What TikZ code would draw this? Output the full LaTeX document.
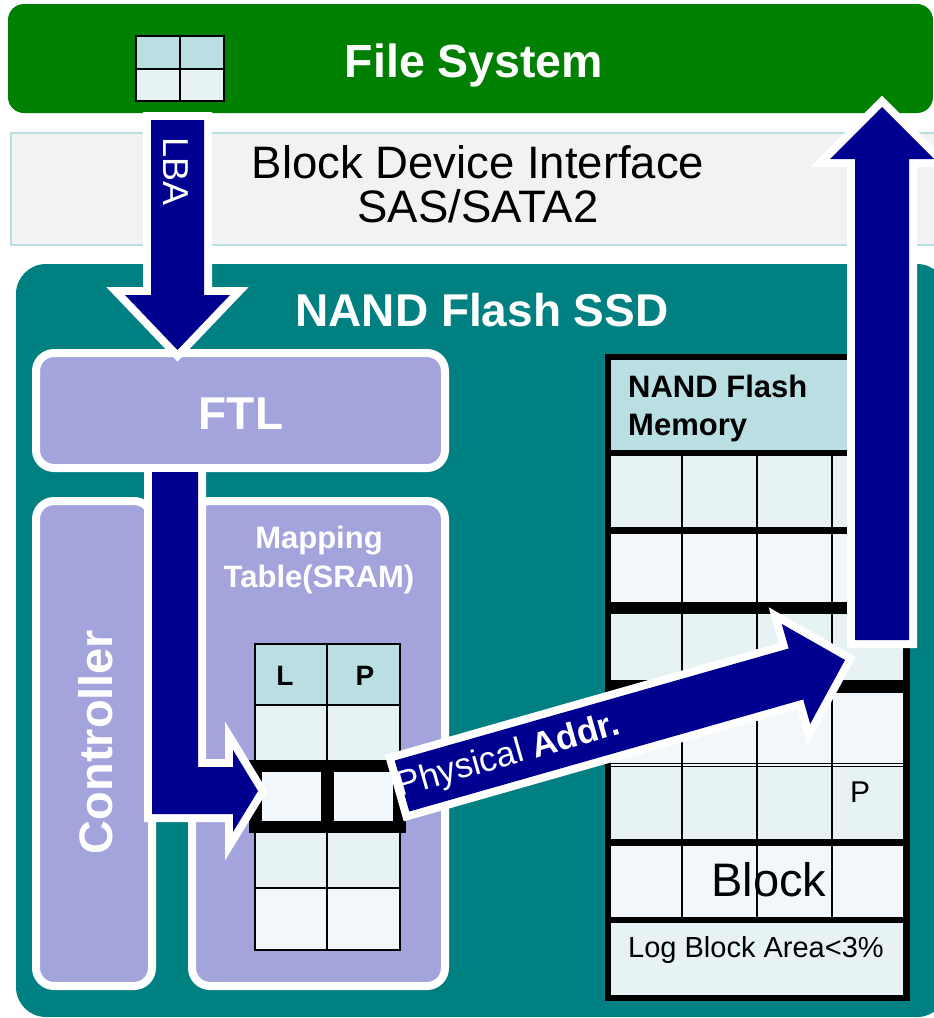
\documentclass[tikz,border=0pt]{standalone}
\usepackage{fontspec}
\setmainfont{Liberation Sans}
\usetikzlibrary{calc}
\definecolor{fsgreen}{RGB}{0,128,0}
\definecolor{ssdteal}{RGB}{0,128,128}
\definecolor{arrblue}{RGB}{0,0,144}
\definecolor{lav}{RGB}{164,164,220}
\definecolor{hdrteal}{RGB}{185,223,226}
\definecolor{cellA}{RGB}{230,242,243}
\definecolor{cellB}{RGB}{241,247,250}
\definecolor{bandgray}{RGB}{242,242,242}
\newcommand\fsz[2]{\fontsize{#1}{#2}\selectfont}
\begin{document}
\begin{tikzpicture}[x=1pt,y=-1pt,
  blockarrow/.style={fill=arrblue, preaction={draw=white, line width=16pt, line join=miter, miter limit=10}},
  panel/.style={draw=white, line width=8pt, fill=lav, rounded corners=18pt},
  wtxt/.style={text=white, inner sep=0pt},
  btxt/.style={text=black, inner sep=0pt},
  gridline/.style={draw=black, line width=2.5pt},
  thinline/.style={draw=black, line width=1.5pt}]
\clip (0,0) rectangle (934,1018);
% File system bar
\fill[fsgreen, rounded corners=16pt] (8,4) rectangle (933,113);
\fill[hdrteal] (136,36) rectangle (224,69);
\fill[cellA] (136,69) rectangle (224,101);
\draw[line width=2pt] (136,36) rectangle (224,101) (180,36) -- (180,101) (136,69) -- (224,69);
% block device interface band
\draw[fill=bandgray, draw=hdrteal, line width=1.5pt] (11,133) rectangle (945,245);
% SSD box
\fill[ssdteal, rounded corners=30pt] (16,264) rectangle (947,1017);
% panels
\draw[panel] (36,353) rectangle (445,468);
\draw[panel] (36,501) rectangle (152,986);
\draw[panel] (192,501) rectangle (445,986);
% mapping table
\fill[hdrteal] (255,644) rectangle (400,705);
\fill[cellA] (255,705) rectangle (400,760);
\fill[cellA] (255,833) rectangle (400,888);
\fill[cellB] (255,888) rectangle (400,950);
\draw[gridline] (255,644) rectangle (400,950);
\draw[gridline] (327,644) -- (327,950);
\draw[gridline] (255,705) -- (400,705);
\draw[gridline] (255,888) -- (400,888);
\fill[black] (249,760) rectangle (406,833);
\fill[cellB] (262,772) rectangle (321,821);
\fill[cellB] (334,772) rectangle (393,821);
% NAND flash memory grid
\fill[black] (605,354) rectangle (910,1001);
\fill[hdrteal] (611,360) rectangle (903,450);
\fill[cellA] (611,456) rectangle (903,527);
\fill[cellB] (611,534) rectangle (903,602);
\fill[cellA] (611,614) rectangle (903,680);
\fill[cellB] (611,693) rectangle (903,763);
\fill[cellA] (611,767) rectangle (903,839);
\fill[cellB] (611,846) rectangle (903,917);
\fill[cellA] (611,923) rectangle (903,995);
\draw[cellB, line width=1.2pt] (611,765) -- (903,765);
\foreach \x in {682,757,832} \draw[thinline] (\x,456) -- (\x,917);
% arrows
\path[blockarrow] (151,120) -- (204,120) -- (204,295) -- (230,295) -- (177.5,350) -- (125,295) -- (151,295) -- cycle;
\path[blockarrow] (152,472) -- (198,472) -- (198,767) -- (233,767) -- (233,750) -- (258,791) -- (233,832) -- (233,814) -- (152,814) -- cycle;
\coordinate (pS) at (402,786);
\coordinate (pT) at (845,660);
\coordinate (pB) at ($(pT)!51pt!(pS)$);
\path[blockarrow] ($(pS)!26.5pt!90:(pT)$) -- ($(pB)!26.5pt!90:(pT)$) -- ($(pB)!52pt!90:(pT)$) -- (pT)
  -- ($(pB)!52pt!-90:(pT)$) -- ($(pB)!26.5pt!-90:(pT)$) -- ($(pS)!26.5pt!-90:(pT)$) -- cycle;
\path[blockarrow] (855,640) -- (909,640) -- (909,159) -- (934,159) -- (882,107) -- (830,159) -- (855,159) -- cycle;
% texts
\node[wtxt, font=\bfseries\fsz{46.5}{50}, anchor=base] (fs) at (474,77) {File System};
\node[btxt, font=\fsz{45.5}{44}, align=center] (bdi) at (478,184.5) {Block Device Interface\\SAS/SATA2};
\node[wtxt, font=\bfseries\fsz{46}{50}, anchor=base] (ssd) at (482,326) {NAND Flash SSD};
\node[wtxt, font=\bfseries\fsz{46}{50}, anchor=base] (ftl) at (241,429) {FTL};
\node[wtxt, font=\bfseries\fsz{47}{50}, anchor=base, rotate=90] (ctrl) at (112,742) {Controller};
\node[wtxt, font=\fsz{36}{40}, anchor=base, rotate=-90] (lba) at (163,171.5) {LBA};
\node[wtxt, font=\bfseries\fsz{31}{39}, align=center] (map) at (319,559.5) {Mapping\\Table(SRAM)};
\node[btxt, font=\bfseries\fsz{28}{30}, anchor=base] (colL) at (285,685) {L};
\node[btxt, font=\bfseries\fsz{28}{30}, anchor=base] (colP) at (365,685) {P};
\node[btxt, font=\bfseries\fsz{31}{38}, align=left, anchor=west] (nfm) at (628,408) {NAND Flash\\Memory};
\node[btxt, font=\fsz{30}{32}, anchor=base] (pg) at (860,802) {P};
\node[btxt, font=\fsz{47}{50}, anchor=base] (blk) at (769,896) {Block};
\node[btxt, font=\fsz{29}{32}, anchor=base] (logb) at (756,957) {Log Block Area<3\%};
\node[wtxt, font=\fsz{35}{38}, anchor=base, rotate=15.9] (phys) at (511,765) {Physical \textbf{Addr.}};
\end{tikzpicture}
\end{document}
